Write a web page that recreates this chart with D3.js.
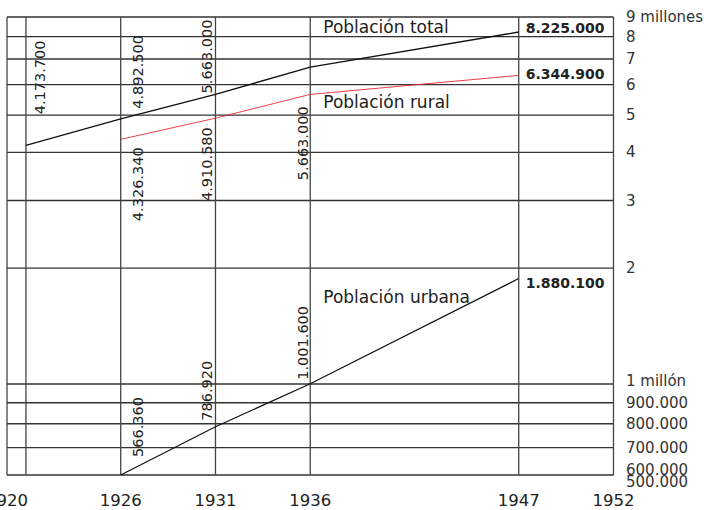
<!DOCTYPE html>
<html>
<head>
<meta charset="utf-8">
<script src="https://cdn.jsdelivr.net/npm/d3@7"></script>
<style>
  body { margin: 0; background: #fff; }
  text { font-family: "DejaVu Sans", sans-serif; fill: #222; }
</style>
</head>
<body>
<div class="chart"></div>
<script>
// census years and population per series
var years = [1921, 1926, 1931, 1936, 1947];
var total = [4173700, 4892500, 5663000, 6664600, 8225000];
var ruralYears = [1926, 1931, 1936, 1947];
var rural = [4326340, 4910580, 5663000, 6344900];
var urbanYears = [1926, 1931, 1936, 1947];
var urban = [566360, 786920, 1001600, 1880100];

// which points carry a rotated value label
var totalLabeled = [1921, 1926, 1931];
var ruralLabeled = [1926, 1931, 1936];
var urbanLabeled = [1926, 1931, 1936];

var seriesNames = ["Población total", "Población rural", "Población urbana"];

var xTicks = [1920, 1926, 1931, 1936, 1947, 1952];
var yTicks = [9000000, 8000000, 7000000, 6000000, 5000000, 4000000, 3000000, 2000000,
  1000000, 900000, 800000, 700000, 600000, 500000];
var yTickLabels = ["9 millones", "8", "7", "6", "5", "4", "3", "2",
  "1 millón", "900.000", "800.000", "700.000", "600.000", "500.000"];

var width = 704;
var height = 510;

var svg = d3.select(".chart")
  .append("svg")
  .attr("width", width)
  .attr("height", height);

var x = d3.scaleLinear().domain([1920, 1952]).range([7, 613.5]);
// log paper, lower part (under 1 million) a bit stretched
var y = d3.scaleLog()
  .domain([600000, 1000000, 9000000])
  .range([475, 384, 17])
  .clamp(true);

var fmt = function (v) { return d3.format(",")(v).replace(/,/g, "."); };

// grid
var gridY = yTicks.filter(function (d) { return d >= 600000; });
svg.selectAll(".hline")
  .data(gridY).enter()
  .append("line")
  .attr("x1", x(1920)).attr("x2", x(1952))
  .attr("y1", function (d) { return y(d); })
  .attr("y2", function (d) { return y(d); })
  .style("stroke", "#333")
  .style("stroke-width", 1.3);

svg.selectAll(".vline")
  .data([1920].concat(years).concat([1952])).enter()
  .append("line")
  .attr("x1", function (d) { return x(d); })
  .attr("x2", function (d) { return x(d); })
  .attr("y1", y(9000000)).attr("y2", y(600000))
  .style("stroke", "#444")
  .style("stroke-width", 1.3);

// lines
var line = d3.line()
  .x(function (d) { return x(d.year); })
  .y(function (d) { return y(d.value); });

function zip(ys, vs) {
  return ys.map(function (yr, i) { return { year: yr, value: vs[i] }; });
}
var totalData = zip(years, total);
var ruralData = zip(ruralYears, rural);
var urbanData = zip(urbanYears, urban);

svg.append("path").attr("d", line(totalData))
  .style("fill", "none").style("stroke", "#111").style("stroke-width", 1.4);
svg.append("path").attr("d", line(ruralData))
  .style("fill", "none").style("stroke", "#ec2a30").style("stroke-width", 0.9);
svg.append("path").attr("d", line(urbanData))
  .style("fill", "none").style("stroke", "#111").style("stroke-width", 1.2);

// rotated value labels
// dx: from the vertical line, dy: from the point; below=true -> label under the line
var nudge = {
  "t1921": { dx: 14, dy: -31 }, "t1926": { dx: 17, dy: -10 }, "t1931": { dx: -8, dy: -1 },
  "r1926": { dx: 17, dy: 8, below: true }, "r1931": { dx: -8, dy: 9, below: true }, "r1936": { dx: -7, dy: 12, below: true },
  "u1926": { dx: 17, dy: -18 }, "u1931": { dx: -8, dy: -6 }, "u1936": { dx: -7, dy: -4 }
};

function rotLabels(data, labeled, key) {
  data.filter(function (d) { return labeled.indexOf(d.year) >= 0; })
    .forEach(function (d) {
      var n = nudge[key + d.year];
      var px = x(d.year) + n.dx;
      var py = y(d.value) + n.dy;
      svg.append("text")
        .attr("transform", "translate(" + px + "," + py + ") rotate(-90)")
        .attr("text-anchor", n.below ? "end" : "start")
        .attr("dominant-baseline", "central")
        .style("font-size", "14.5px")
        .text(fmt(d.value));
    });
}
rotLabels(totalData, totalLabeled, "t");
rotLabels(ruralData, ruralLabeled, "r");
rotLabels(urbanData, urbanLabeled, "u");

// end values in bold
var ends = [
  { v: total[total.length - 1], dy: -4 },
  { v: rural[rural.length - 1], dy: -1 },
  { v: urban[urban.length - 1], dy: 4 }
];
svg.selectAll(".endlab")
  .data(ends).enter()
  .append("text")
  .attr("x", x(1947) + 7)
  .attr("y", function (d) { return y(d.v) + d.dy; })
  .attr("dominant-baseline", "central")
  .style("font-size", "14px")
  .style("font-weight", "bold")
  .text(function (d) { return fmt(d.v); });

// series names
var nameAt = [8500000, 5400000, 1680000];
svg.selectAll(".name")
  .data(seriesNames).enter()
  .append("text")
  .attr("x", x(1936) + 13)
  .attr("y", function (d, i) { return y(nameAt[i]); })
  .attr("dominant-baseline", "central")
  .style("font-size", "17px")
  .text(function (d) { return d; });

// right axis labels
svg.selectAll(".ylab")
  .data(yTicks).enter()
  .append("text")
  .attr("x", 626)
  .attr("y", function (d) {
    if (d < 600000) return y(600000) + 7;
    if (d == 600000) return y(d) - 5;
    if (d == 1000000) return y(d) - 3;
    return y(d);
  })
  .attr("dominant-baseline", "central")
  .style("font-size", "15px")
  .style("fill", "#333")
  .text(function (d, i) { return yTickLabels[i]; });

// x axis labels
svg.selectAll(".xlab")
  .data(xTicks).enter()
  .append("text")
  .attr("x", function (d) { return x(d); })
  .attr("y", 500)
  .attr("text-anchor", "middle")
  .attr("dominant-baseline", "central")
  .style("font-size", "16.5px")
  .text(function (d) { return d; });
</script>
</body>
</html>
